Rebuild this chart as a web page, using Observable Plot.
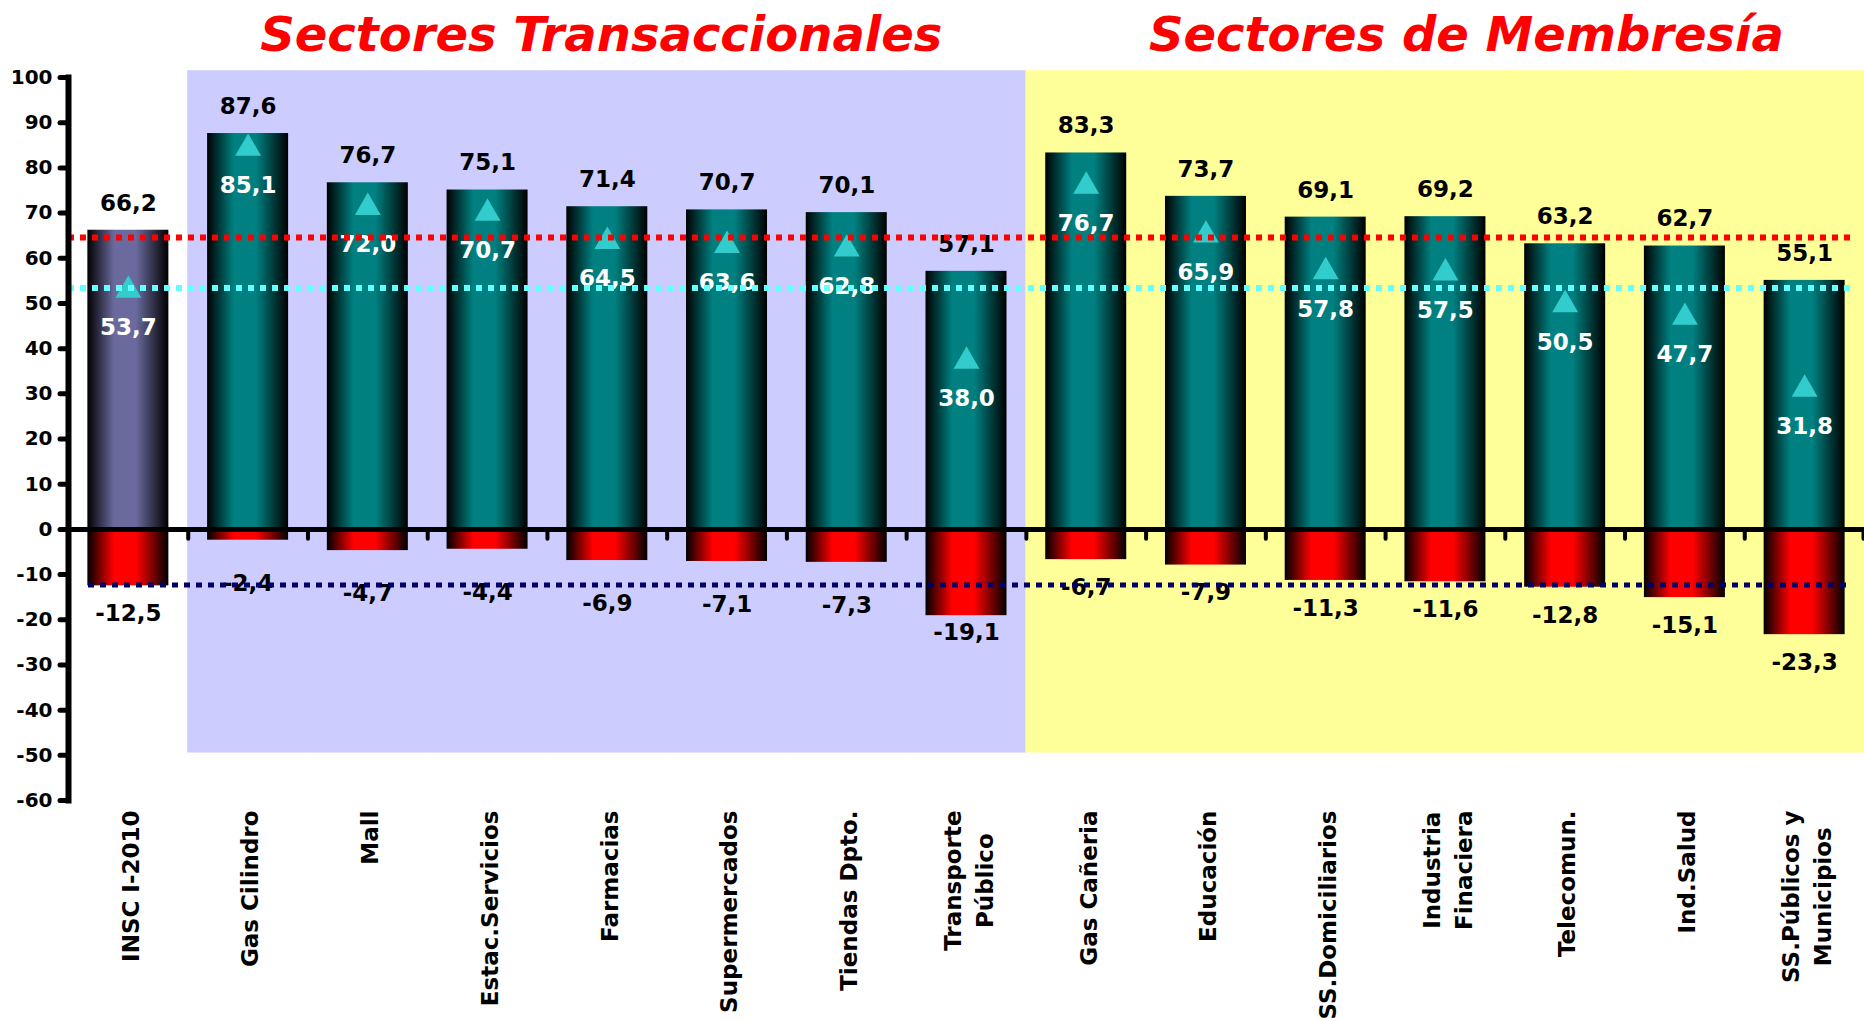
<!DOCTYPE html>
<html><head><meta charset="utf-8">
<script src="https://cdn.jsdelivr.net/npm/d3@7"></script>
<script src="https://cdn.jsdelivr.net/npm/@observablehq/plot@0.6"></script>
<style>html,body{margin:0;padding:0;background:#fff;} svg{display:block}</style>
</head><body><div id="chart"></div>
<script>
const categories = ["INSC I-2010","Gas Cilindro","Mall","Estac.Servicios","Farmacias","Supermercados","Tiendas Dpto.","Transporte\nPúblico","Gas Cañeria","Educación","SS.Domiciliarios","Industria\nFinaciera","Telecomun.","Ind.Salud","SS.Públicos y\nMunicipios"];
const groups = ["INSC","T","T","T","T","T","T","T","M","M","M","M","M","M","M"];
const positiveValues = [66.2, 87.6, 76.7, 75.1, 71.4, 70.7, 70.1, 57.1, 83.3, 73.7, 69.1, 69.2, 63.2, 62.7, 55.1];
const negativeValues = [-12.5, -2.4, -4.7, -4.4, -6.9, -7.1, -7.3, -19.1, -6.7, -7.9, -11.3, -11.6, -12.8, -15.1, -23.3];
const netValues = [53.7, 85.1, 72.0, 70.7, 64.5, 63.6, 62.8, 38.0, 76.7, 65.9, 57.8, 57.5, 50.5, 47.7, 31.8];
const yTicks = [-60, -50, -40, -30, -20, -10, 0, 10, 20, 30, 40, 50, 60, 70, 80, 90, 100];
const redLine = [64.6];
const cyanLine = [53.4];
const navyLine = [-12.3];
const panelExtent = [-49.5, 101.5];
const titles = ["Sectores Transaccionales", "Sectores de Membresía"];

const table = categories.map((c, i) => ({cat: c, group: groups[i], pos: positiveValues[i], neg: negativeValues[i], net: netValues[i]}));
const fmt = v => v.toFixed(1).replace(".", ",");

const W = 1864, H = 1021, ML = 68, MR = 0, MT = 77, MB = 221;
const step = (W - ML - MR) / categories.length;
const inset = (step - 81) / 2;
const font = "DejaVu Sans, Verdana, sans-serif";
const lbl = {fontSize: 23, fontWeight: "bold", lineAnchor: "middle"};

const svg = Plot.plot({
  width: W, height: H,
  marginLeft: ML, marginRight: MR, marginTop: MT, marginBottom: MB,
  x: {domain: categories, padding: 0, round: false},
  y: {domain: [-60, 100]},
  style: {fontFamily: font, background: "white", color: "black"},
  marks: [
    Plot.barY(table.filter(d => d.group === "T"), {x: "cat", y1: panelExtent[0], y2: panelExtent[1], fill: "#CCCCFF", insetLeft: -0.5, insetRight: -0.5}),
    Plot.barY(table.filter(d => d.group === "M"), {x: "cat", y1: panelExtent[0], y2: panelExtent[1], fill: "#FFFF99", insetLeft: -0.5, insetRight: -0.5}),
    Plot.barY(table.filter(d => d.group === "INSC"), {x: "cat", y1: 0, y2: "pos", fill: "url(#gSlate)", insetLeft: inset, insetRight: inset}),
    Plot.barY(table.filter(d => d.group !== "INSC"), {x: "cat", y1: 0, y2: "pos", fill: "url(#gTeal)", insetLeft: inset, insetRight: inset}),
    Plot.barY(table, {x: "cat", y1: 0, y2: "neg", fill: "url(#gRed)", insetLeft: inset, insetRight: inset}),
    Plot.ruleY([0], {stroke: "black", strokeWidth: 5}),
    Plot.ruleX(categories.slice(1), {x: d => d, y1: 0, y2: -2.2, dx: -step / 2, stroke: "black", strokeWidth: 4, strokeLinecap: "round"}),
    Plot.ruleX(categories.slice(-1), {x: d => d, y1: 0, y2: -2.2, dx: step / 2 - 1, stroke: "black", strokeWidth: 4, strokeLinecap: "round"}),
    Plot.dot(table, {x: "cat", y: "net", symbol: "triangle", r: 9.6, fill: "#33CCCC", stroke: null, dy: 3.5}),
    Plot.text(table, {x: "cat", y: "pos", text: d => fmt(d.pos), dy: -27, fill: "black", ...lbl}),
    Plot.text(table, {x: "cat", y: "net", text: d => fmt(d.net), dy: 41, fill: "white", ...lbl}),
    Plot.text(table.filter(d => d.group === "T" && d.neg > -15), {x: "cat", y: "neg", text: d => fmt(d.neg), dy: 43, fill: "black", ...lbl}),
    Plot.text(table.filter(d => d.group === "T" && d.neg <= -15), {x: "cat", y: "neg", text: d => fmt(d.neg), dy: 17, fill: "black", ...lbl}),
    Plot.text(table.filter(d => d.group !== "T"), {x: "cat", y: "neg", text: d => fmt(d.neg), dy: 28, fill: "black", ...lbl}),
    Plot.ruleY(redLine, {stroke: "#FF0000", strokeWidth: 6, strokeDasharray: "6,6", insetRight: 8}),
    Plot.ruleY(cyanLine, {stroke: "#66FFFF", strokeWidth: 6, strokeDasharray: "6,6", insetRight: 8}),
    Plot.ruleY(navyLine, {stroke: "#000066", strokeWidth: 5, strokeDasharray: "6,6", insetLeft: 20, insetRight: 16}),
    Plot.frame({anchor: "left", stroke: "black", strokeWidth: 6}),
    Plot.axisY({ticks: yTicks, tickSize: 8, tickPadding: 8, strokeWidth: 5, strokeLinecap: "round", tickFormat: d => String(d), fontSize: 20, fontWeight: "bold", fill: "black", label: null}),
    Plot.axisX({tickRotate: -90, tickSize: 0, tickPadding: 10, fontSize: 23, fontWeight: "bold", lineHeight: 1.4, fill: "black", label: null}),
    Plot.text([titles[0]], {x: [categories[4]], frameAnchor: "top", dy: -42, dx: -6, lineAnchor: "middle", fontSize: 48, fontWeight: "bold", fontStyle: "italic", fill: "#FF0000"}),
    Plot.text([titles[1]], {x: [categories[11]], frameAnchor: "top", dy: -42, dx: 21, lineAnchor: "middle", fontSize: 48, fontWeight: "bold", fontStyle: "italic", fill: "#FF0000"})
  ]
});

const defs = d3.select(svg).insert("defs", ":first-child");
function grad(id, color) {
  const g = defs.append("linearGradient").attr("id", id).attr("x1", 0).attr("x2", 1).attr("y1", 0).attr("y2", 0);
  [[0, "#000000"], [0.33, color], [0.6, color], [1, "#000000"]].forEach(([o, c]) => g.append("stop").attr("offset", o).attr("stop-color", c));
}
grad("gTeal", "#008080");
grad("gSlate", "#6A6A9E");
grad("gRed", "#FF0000");

document.getElementById("chart").appendChild(svg);

// center multi-line rotated category labels relative to each other
d3.select(svg).selectAll('g[aria-label="x-axis tick label"] text').each(function() {
  const spans = Array.from(this.querySelectorAll("tspan"));
  if (spans.length < 2) return;
  const lens = spans.map(s => s.getComputedTextLength());
  const max = Math.max(...lens);
  spans.forEach((s, i) => s.setAttribute("x", -(max - lens[i]) / 2));
});
</script>
</body></html>
